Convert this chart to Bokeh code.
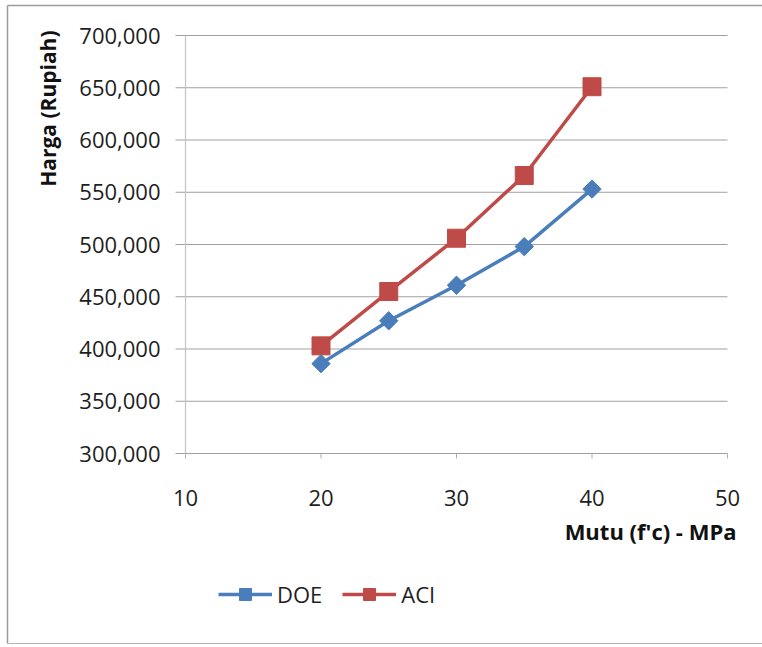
import math
from bokeh.plotting import figure
from bokeh.models import Legend, LegendItem, Range1d
from bokeh.core.properties import value
from bokeh.embed import file_html
from bokeh.resources import INLINE

# ---- data ----
mutu = [20, 25, 30, 35, 40]
doe = [386000, 427000, 461000, 498000, 553000]
aci = [403000, 455000, 506000, 566000, 651000]
x_ticks = [10, 20, 30, 40, 50]
y_ticks = [300000, 350000, 400000, 450000, 500000, 550000, 600000, 650000, 700000]
x_tick_labels = [str(v) for v in x_ticks]
y_tick_labels = [f"{v:,}" for v in y_ticks]

# ---- layout (pixel geometry of the plotting area inside the 762x647 canvas) ----
W, H = 762, 647
PX_L, PX_R, PX_T, PX_B = 185, 727, 35, 453
X0, X1 = x_ticks[0], x_ticks[-1]
Y0, Y1 = y_ticks[0], y_ticks[-1]
SX = (PX_R - PX_L) / (X1 - X0)
SY = (PX_B - PX_T) / (Y1 - Y0)


def xd(px):
    return X0 + (px - PX_L) / SX


def yd(py):
    return Y1 - (py - PX_T) / SY


FONT = "Open Sans"
BLUE = "#4a7ebb"
RED = "#be4b48"
GRID = "#a0a0a0"
TXT = "#1e1e1e"

p = figure(width=W, height=H, output_backend="svg", toolbar_location=None,
           x_range=Range1d(xd(0), xd(W)), y_range=Range1d(yd(H), yd(0)),
           x_axis_location=None, y_axis_location=None, min_border=0)
p.background_fill_color = "white"
p.border_fill_color = "white"
p.outline_line_color = None
p.grid.visible = False

# outer chart border
p.segment(x0=[xd(7), xd(7)], y0=[yd(5), yd(5)], x1=[xd(W), xd(7)], y1=[yd(5), yd(643)],
          line_color="#9c9c9c", line_width=1.5)
p.segment(x0=[xd(7)], y0=[yd(643)], x1=[xd(W)], y1=[yd(643)],
          line_color="#b4b4b4", line_width=1.2)

# horizontal gridlines (with outward tick on the value axis)
n = len(y_ticks)
p.segment(x0=[xd(PX_L - 10)] * n, y0=y_ticks, x1=[X1] * n, y1=y_ticks,
          line_color=GRID, line_width=1)
# value axis line
p.segment(x0=[X0], y0=[Y0], x1=[X0], y1=[Y1], line_color="#c4c4cc", line_width=1.2)
# category axis ticks
m = len(x_ticks)
p.segment(x0=x_ticks, y0=[Y0] * m, x1=x_ticks, y1=[yd(PX_B + 5)] * m,
          line_color="#b0b0b0", line_width=1)

# tick labels
p.text(x=[xd(160)] * n, y=y_ticks, text=y_tick_labels, text_font=value(FONT),
       text_font_size="22px", text_color=TXT, text_align="right",
       text_baseline="middle")
p.text(x=x_ticks, y=[yd(497)] * m, text=x_tick_labels, text_font=value(FONT),
       text_font_size="22px", text_color=TXT, text_align="center",
       text_baseline="middle")

# axis titles
p.text(x=[xd(47)], y=[yd(30)], text=["Harga (Rupiah)"], angle=math.pi / 2,
       text_font=value(FONT), text_font_size="21px", text_font_style="bold",
       text_color="#111111", text_align="right", text_baseline="middle")
p.text(x=[xd(736)], y=[yd(530)], text=["Mutu (f'c) - MPa"],
       text_font=value(FONT), text_font_size="22px", text_font_style="bold",
       text_color="#111111", text_align="right", text_baseline="middle")

# series
r_doe = p.line(mutu, doe, line_color=BLUE, line_width=3.5)
m_doe = p.scatter(mutu, doe, marker="square", angle=math.pi / 4, size=13,
                  fill_color=BLUE, line_color=BLUE)
r_aci = p.line(mutu, aci, line_color=RED, line_width=3.5)
m_aci = p.scatter(mutu, aci, marker="square", size=18, fill_color=RED, line_color=RED)

legend = Legend(items=[LegendItem(label="DOE", renderers=[r_doe, m_doe]),
                       LegendItem(label="ACI", renderers=[r_aci, m_aci])],
                orientation="horizontal", location=(218, 38),
                label_text_font=FONT, label_text_font_size="22px",
                label_text_color=TXT, glyph_width=54, glyph_height=30,
                label_standoff=5, spacing=20, border_line_color=None,
                background_fill_alpha=0, padding=0, margin=0)
p.add_layout(legend)

open("out.html", "w").write(file_html(p, INLINE))
